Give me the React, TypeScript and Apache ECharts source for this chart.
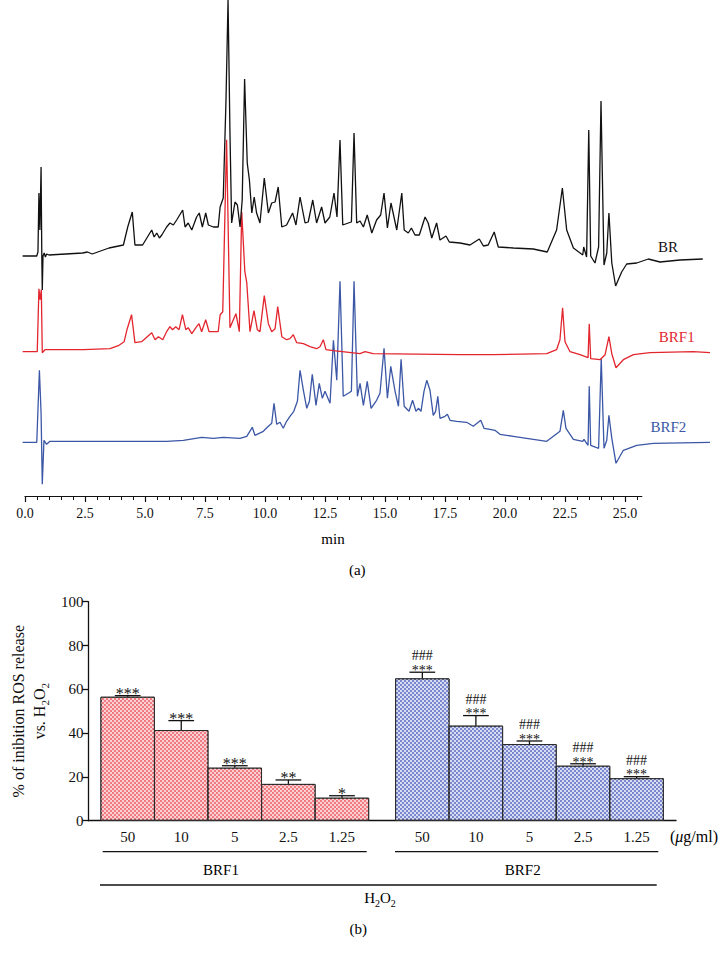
import React, { useEffect, useRef } from 'react';
import * as echarts from 'echarts';

const FONT = "'Liberation Serif', 'DejaVu Serif', serif";

// ---------- (a) chromatogram traces: [time (min), signal above own baseline] ----------
const BR_TRACE = [
  [-0.1, 0], [0.49, 0], [0.54, 4], [0.58, 63], [0.62, 26], [0.67, 89], [0.7, 0], [0.72, -34], [0.75, 0],
  [0.8, 3], [0.85, -1], [0.9, 2], [1.0, 1], [2.4, 3], [2.6, 4], [2.8, 2], [3.5, 8], [4.1, 11], [4.28, 29],
  [4.47, 44], [4.58, 11], [4.9, 11], [5.28, 26], [5.38, 19], [5.49, 23], [5.6, 18], [5.7, 21], [5.9, 29],
  [6.04, 33], [6.18, 31], [6.32, 36], [6.57, 46], [6.67, 29], [6.8, 33], [6.95, 26], [7.15, 39], [7.26, 43],
  [7.39, 29], [7.53, 43], [7.64, 31], [7.85, 29], [8.05, 29], [8.13, 49], [8.26, 58], [8.375, 156], [8.46, 256],
  [8.54, 123], [8.61, 33], [8.75, 54], [8.85, 51], [8.96, 29], [9.05, 56], [9.15, 177], [9.26, 93], [9.35, 76],
  [9.45, 43], [9.55, 59], [9.65, 43], [9.79, 33], [9.97, 78], [10.14, 43], [10.28, 53], [10.42, 54], [10.55, 69],
  [10.7, 29], [10.9, 31], [11.15, 43], [11.29, 31], [11.46, 59], [11.67, 33], [11.8, 34], [11.99, 56], [12.15, 33],
  [12.36, 49], [12.5, 33], [12.7, 39], [12.875, 63], [13.0, 39], [13.125, 116], [13.24, 31], [13.47, 33], [13.6, 34],
  [13.71, 123], [13.82, 33], [13.96, 35], [14.1, 29], [14.26, 41], [14.45, 23], [14.65, 36], [14.82, 41], [14.96, 63],
  [15.1, 28], [15.25, 53], [15.49, 26], [15.7, 63], [15.8, 26], [15.97, 23], [16.1, 28], [16.25, 21], [16.43, 21],
  [16.67, 39], [16.8, 33], [16.95, 18], [17.15, 33], [17.29, 16], [17.54, 20], [17.68, 14], [18.13, 13], [18.54, 11],
  [18.93, 17], [19.1, 10], [19.3, 11], [19.55, 24], [19.72, 9], [20.35, 8], [21.18, 7], [21.76, 4], [22.15, 26],
  [22.39, 68], [22.57, 26], [22.85, 8], [23.24, 1], [23.28, 9], [23.4, -1], [23.49, 126], [23.57, 0], [23.75, -7],
  [23.9, 9], [24.0, 155], [24.125, -9], [24.24, 3], [24.33, 43], [24.45, -7], [24.61, -30], [24.86, -16], [25.07, -8],
  [25.49, -7], [25.97, -3], [26.46, -6], [27.29, -4], [28.24, -3],
];

const BRF1_TRACE = [
  [-0.1, 0], [0.51, 0], [0.58, 63], [0.63, 52], [0.68, 62], [0.72, -1], [0.83, 2], [2.45, 2], [3.54, 3], [3.89, 6],
  [4.13, 10], [4.26, 23], [4.44, 37], [4.58, 9], [4.86, 10], [5.28, 19], [5.42, 12], [5.56, 15], [5.74, 12], [5.9, 20],
  [6.04, 25], [6.15, 22], [6.28, 25], [6.42, 22], [6.56, 37], [6.7, 22], [6.8, 24], [6.95, 18], [7.15, 25], [7.25, 28],
  [7.36, 20], [7.53, 32], [7.67, 20], [8.05, 20], [8.13, 37], [8.24, 40], [8.4, 212], [8.54, 24], [8.68, 32], [8.79, 38],
  [8.93, 20], [9.03, 140], [9.16, 80], [9.24, 69], [9.375, 20], [9.54, 41], [9.68, 22], [9.79, 20], [9.97, 56], [10.14, 28],
  [10.28, 20], [10.42, 23], [10.53, 45], [10.7, 15], [10.9, 12], [11.04, 13], [11.18, 17], [11.32, 9], [11.6, 8],
  [11.875, 5], [12.15, 3], [12.29, 5], [12.43, 12], [12.54, 2], [12.85, 1], [13.96, -2], [14.17, 0], [14.5, -2],
  [18.13, -3], [19.5, -3], [21.74, -2], [22.15, 2], [22.29, 12], [22.4, 44], [22.5, 10], [22.71, 0], [23.125, -3],
  [23.46, -6], [23.51, 28], [23.57, -7], [23.96, -8], [24.17, -3], [24.33, 15], [24.45, -2], [24.625, -16], [24.93, -8],
  [25.35, -3], [26.04, -1], [27.85, 0], [28.54, -1],
];

const BRF2_TRACE = [
  [-0.1, 0], [0.49, 0], [0.6, 72], [0.67, 29], [0.72, -42], [0.79, 2], [0.9, -2], [1.04, 1], [3.125, 1], [5.9, 1],
  [6.6, 2], [7.36, 5], [7.85, 4], [8.26, 5], [8.96, 4], [9.24, 6], [9.47, 15], [9.58, 7], [9.93, 11], [10.14, 16],
  [10.28, 19], [10.375, 39], [10.49, 18], [10.625, 20], [10.76, 14], [10.9, 21], [11.04, 26], [11.2, 31], [11.35, 41],
  [11.46, 72], [11.6, 52], [11.74, 34], [11.85, 41], [11.97, 68], [12.125, 37], [12.26, 59], [12.39, 44], [12.5, 51],
  [12.71, 39], [12.85, 102], [12.99, 62], [13.125, 161], [13.26, 46], [13.47, 49], [13.6, 51], [13.71, 161], [13.85, 46],
  [13.96, 59], [14.1, 37], [14.26, 61], [14.42, 34], [14.65, 42], [14.79, 49], [14.96, 94], [15.1, 44], [15.24, 76],
  [15.42, 51], [15.56, 36], [15.67, 83], [15.8, 36], [16.0, 31], [16.15, 42], [16.29, 31], [16.39, 34], [16.5, 31],
  [16.625, 51], [16.74, 62], [16.875, 52], [17.01, 27], [17.11, 31], [17.2, 46], [17.29, 24], [17.5, 26], [17.6, 28],
  [17.71, 22], [17.99, 21], [18.4, 20], [18.68, 16], [18.99, 22], [19.125, 14], [19.375, 13], [19.58, 12], [19.79, 8],
  [20.35, 6], [21.18, 3], [21.74, 1], [22.29, 11], [22.43, 32], [22.54, 14], [22.85, 3], [23.24, 1], [23.29, 3],
  [23.46, -3], [23.51, 56], [23.57, -3], [23.9, -6], [24.01, 84], [24.125, -6], [24.24, 2], [24.33, 27], [24.45, 4],
  [24.625, -21], [24.93, -8], [25.49, -3], [26.18, -1], [28.54, 0],
];

const TRACES = [BR_TRACE, BRF1_TRACE, BRF2_TRACE];
const TRACE_NAMES = ['BR', 'BRF1', 'BRF2'];
const TRACE_COLORS = ['#111111', '#e3262e', '#3b57a6'];
const TRACE_OFFSETS = [240, 144.3, 53.7];
const TIME_LABELS = [0, 2.5, 5, 7.5, 10, 12.5, 15, 17.5, 20, 22.5, 25];

// ---------- (b) ROS inhibition bars ----------
const CONC = ['50', '10', '5', '2.5', '1.25'];
const BRF1_MEAN = [56.6, 41.4, 24.2, 16.8, 10.5];
const BRF1_ERR = [0.5, 4.3, 0.9, 1.8, 0.9];
const BRF1_SIG = ['***', '***', '***', '**', '*'];
const BRF2_MEAN = [65.0, 43.4, 35.0, 25.1, 19.4];
const BRF2_ERR = [2.8, 4.6, 1.4, 0.9, 0.7];
const BRF2_SIG = ['***', '***', '***', '***', '***'];
const BRF2_HASH = ['###', '###', '###', '###', '###'];

export default function App() {
  const ref = useRef<HTMLDivElement>(null);

  useEffect(() => {
    if (!ref.current) return;
    const chart = echarts.init(ref.current, undefined, { renderer: 'svg' });

    const BAR_LEFT = 79.3;
    const BAR_WIDTH_PX = 596.7;
    const XB_MIN = -0.733;
    const XB_MAX = 10.235;
    const barW = BAR_WIDTH_PX / (XB_MAX - XB_MIN);
    const GROUP2_SHIFT = 5.5;

    const redDecal = {
      symbol: 'rect', symbolSize: 1, color: 'rgba(253,212,214,0.95)',
      dashArrayX: [[2, 2], [0, 2, 2, 0]], dashArrayY: [2, 0], rotation: 0,
    };
    const blueDecal = {
      symbol: 'rect', symbolSize: 1, color: 'rgba(220,224,246,0.95)',
      dashArrayX: [[2, 2], [0, 2, 2, 0]], dashArrayY: [2, 0], rotation: 0,
    };

    const barData: any[] = [];
    const errData: any[] = [];
    const labelData: any[] = [];
    CONC.forEach((c, i) => {
      barData.push({
        value: [i, BRF1_MEAN[i]],
        itemStyle: { color: '#ef7c82', borderColor: '#2a2a2a', borderWidth: 1, decal: redDecal },
      });
      errData.push([i, BRF1_MEAN[i], BRF1_ERR[i], 0, i]);
      labelData.push([i, 0, i]);
    });
    CONC.forEach((c, i) => {
      barData.push({
        value: [i + GROUP2_SHIFT, BRF2_MEAN[i]],
        itemStyle: { color: '#7b89cc', borderColor: '#2a2a2a', borderWidth: 1, decal: blueDecal },
      });
      errData.push([i + GROUP2_SHIFT, BRF2_MEAN[i], BRF2_ERR[i], 1, i]);
      labelData.push([i + GROUP2_SHIFT, 0, i]);
    });

    const minorTicks = Array.from({ length: 52 }, (_, i) => i * 0.5);

    const lineSeries = TRACES.map((tr, k) => ({
      type: 'line',
      name: TRACE_NAMES[k],
      xAxisIndex: 0,
      yAxisIndex: 0,
      symbol: 'none',
      data: tr.map(([t, s]) => [t, s + TRACE_OFFSETS[k]]),
      lineStyle: { color: TRACE_COLORS[k], width: 1.3 },
      itemStyle: { color: TRACE_COLORS[k] },
      z: 3 - k,
    }));

    const txt = (text: string, x: number, y: number, extra: any = {}) => ({
      type: 'text',
      x, y,
      style: {
        text, x: 0, y: 0,
        font: `15px ${FONT}`,
        fill: '#000',
        align: 'center', verticalAlign: 'middle',
        textAlign: 'center', textVerticalAlign: 'middle',
        ...extra,
      },
    });
    const hline = (x1: number, x2: number, y: number) => ({
      type: 'line',
      shape: { x1, y1: y, x2, y2: y },
      style: { stroke: '#111', lineWidth: 1.3 },
    });

    const option: any = {
      animation: false,
      backgroundColor: '#ffffff',
      grid: [
        { left: 20.2, top: 0, width: 691.2, height: 496 },
        { left: 25, top: 0, width: 616.8, height: 496 },
        { left: BAR_LEFT, top: 601.7, width: BAR_WIDTH_PX, height: 219 },
      ],
      xAxis: [
        { gridIndex: 0, type: 'value', min: -0.2, max: 28.6, show: false },
        {
          gridIndex: 1, type: 'value', min: 0, max: 25.7, position: 'bottom',
          axisLine: { show: true, onZero: false, lineStyle: { color: '#111', width: 1.2 } },
          axisTick: { show: true, customValues: TIME_LABELS, length: 6, lineStyle: { color: '#111', width: 1.2 } },
          axisLabel: {
            show: true, customValues: TIME_LABELS, formatter: (v: any) => Number(v).toFixed(1),
            color: '#111', fontFamily: FONT, fontSize: 14, margin: 10,
          },
          splitLine: { show: false },
        },
        {
          gridIndex: 1, type: 'value', min: 0, max: 25.7, position: 'bottom',
          axisLine: { show: false, onZero: false },
          axisTick: { show: true, customValues: minorTicks, length: 4, lineStyle: { color: '#111', width: 1 } },
          axisLabel: { show: false },
          splitLine: { show: false },
        },
        {
          gridIndex: 2, type: 'value', min: XB_MIN, max: XB_MAX,
          axisLine: { show: true, onZero: false, lineStyle: { color: '#111', width: 1.3 } },
          axisTick: { show: false }, axisLabel: { show: false }, splitLine: { show: false },
        },
      ],
      yAxis: [
        { gridIndex: 0, type: 'value', min: 0, max: 496, show: false },
        { gridIndex: 1, type: 'value', min: 0, max: 1, show: false },
        {
          gridIndex: 2, type: 'value', min: 0, max: 100, interval: 20,
          axisLine: { show: true, onZero: false, lineStyle: { color: '#111', width: 1.3 } },
          axisTick: { show: true, length: 6, lineStyle: { color: '#111', width: 1.3 } },
          axisLabel: { color: '#111', fontFamily: FONT, fontSize: 15, margin: 5 },
          splitLine: { show: false },
          name: '% of inibition ROS release\nvs. H{sub|2}O{sub|2}',
          nameLocation: 'middle',
          nameRotate: 90,
          nameGap: 37,
          nameTextStyle: {
            color: '#111', fontFamily: FONT, fontSize: 16, lineHeight: 21, align: 'center',
            rich: { sub: { fontFamily: FONT, fontSize: 11, verticalAlign: 'bottom', color: '#111' } },
          },
        },
      ],
      series: [
        ...lineSeries,
        {
          type: 'bar',
          xAxisIndex: 3, yAxisIndex: 2,
          barWidth: barW,
          data: barData,
          z: 2,
        },
        {
          type: 'custom',
          xAxisIndex: 3, yAxisIndex: 2,
          data: errData,
          z: 5,
          renderItem: (params: any, api: any) => {
            const x = api.value(0), m = api.value(1), e = api.value(2);
            const g = api.value(3), i = api.value(4);
            const base = api.coord([x, m]);
            const top = api.coord([x, m + e]);
            const half = api.size([0.24, 0])[0];
            const stroke = { stroke: '#111', lineWidth: 1.3 };
            const children: any[] = [
              { type: 'line', shape: { x1: base[0], y1: base[1], x2: top[0], y2: top[1] }, style: stroke },
              { type: 'line', shape: { x1: top[0] - half, y1: top[1], x2: top[0] + half, y2: top[1] }, style: stroke },
            ];
            if (g === 0) {
              children.push({
                type: 'text',
                style: {
                  text: BRF1_SIG[i], x: top[0], y: top[1] - 2,
                  align: 'center', verticalAlign: 'middle', font: `16px ${FONT}`, fill: '#111',
                },
              });
            } else {
              children.push({
                type: 'text',
                style: {
                  text: BRF2_HASH[i] + '\n' + BRF2_SIG[i], x: top[0], y: top[1] - 9,
                  lineHeight: 14.5, align: 'center', verticalAlign: 'middle', font: `14px ${FONT}`, fill: '#111',
                },
              });
            }
            return { type: 'group', children };
          },
        },
        {
          type: 'custom',
          xAxisIndex: 3, yAxisIndex: 2,
          data: labelData,
          z: 5,
          renderItem: (params: any, api: any) => {
            const p = api.coord([api.value(0), api.value(1)]);
            return {
              type: 'text',
              style: {
                text: CONC[api.value(2)], x: p[0], y: p[1] + 16,
                align: 'center', verticalAlign: 'middle', font: `15px ${FONT}`, fill: '#111',
              },
            };
          },
        },
      ],
      graphic: [
        txt('BR', 668, 247, { fill: TRACE_COLORS[0] }),
        txt('BRF1', 676.7, 337, { fill: TRACE_COLORS[1] }),
        txt('BRF2', 668.3, 427, { fill: TRACE_COLORS[2] }),
        txt('min', 333, 539),
        txt('(a)', 357.3, 570),
        txt('({it|μ}g/ml)', 694, 836, { font: `16px ${FONT}`, rich: { it: { fontStyle: 'italic', fontFamily: FONT, fontSize: 16 } } }),
        hline(102.7, 366.7, 851.7),
        hline(395, 658.3, 851.7),
        txt('BRF1', 221, 870),
        txt('BRF2', 522.7, 870),
        hline(100, 656.7, 885),
        txt('H{s|2}O{s|2}', 380, 898, {
          lineHeight: 20,
          rich: { s: { fontSize: 10, fontFamily: FONT, verticalAlign: 'bottom' } },
        }),
        txt('(b)', 358.3, 929),
      ],
    };

    chart.setOption(option);
    return () => chart.dispose();
  }, []);

  return (
    <div
      ref={ref}
      style={{ position: 'absolute', left: 0, top: 0, width: 721, height: 953, background: '#fff' }}
    />
  );
}
